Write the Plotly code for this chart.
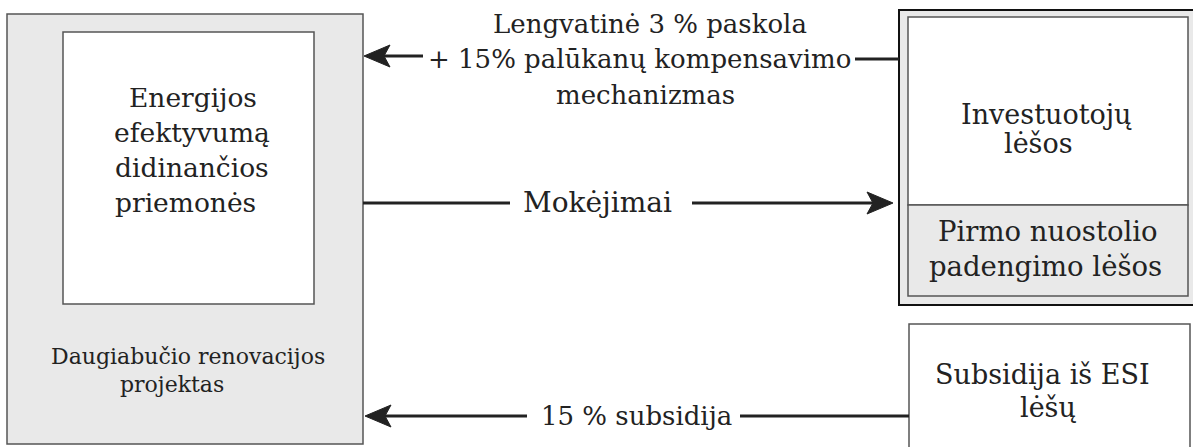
import plotly.graph_objects as go

W, H = 1193, 447

# ---- text content ----
measures_label = ["Energijos", "efektyvumą", "didinančios", "priemonės"]
project_label = ["Daugiabučio renovacijos", "projektas"]
investor_label = ["Investuotojų", "lėšos"]
first_loss_label = ["Pirmo nuostolio", "padengimo lėšos"]
esi_label = ["Subsidija iš ESI", "lėšų"]
loan_label = ["Lengvatinė 3 % paskola", "+ 15% palūkanų kompensavimo", "mechanizmas"]
payments_label = ["Mokėjimai"]
subsidy_label = ["15 % subsidija"]

# ---- layout positions (x centre, y centre of each line) ----
measures_pos = [(193, 97), (192, 132), (192, 167), (185, 202)]
project_pos = [(188, 356), (172, 384)]
investor_pos = [(1046, 114), (1038, 143)]
first_loss_pos = [(1048, 231), (1045, 266)]
esi_pos = [(1042, 374), (1048, 407)]
loan_pos = [(650, 24), (639, 59), (645, 95)]
payments_pos = [(597, 202)]
subsidy_pos = [(636, 416)]

FONT = "DejaVu Serif"
INK = "#222222"
GREY = "#e9e9e9"
EDGE = "#555555"

shapes = []


def rect(x0, y0, x1, y1, fill, line_color=EDGE, width=1.5):
    shapes.append(dict(type="rect", xref="x", yref="y", x0=x0, y0=y0, x1=x1, y1=y1,
                       fillcolor=fill, line=dict(color=line_color, width=width), layer="below"))


def seg(x0, y0, x1, y1, width=3):
    shapes.append(dict(type="line", xref="x", yref="y", x0=x0, y0=y0, x1=x1, y1=y1,
                       line=dict(color=INK, width=width)))


def head(tx, ty, direction):
    L, hw, notch = 26, 11, 6
    d = 1 if direction == "left" else -1
    bx = tx + d * L
    nx = tx + d * (L - notch)
    path = f"M {tx},{ty} L {bx},{ty - hw} L {nx},{ty} L {bx},{ty + hw} Z"
    shapes.append(dict(type="path", xref="x", yref="y", path=path,
                       fillcolor=INK, line=dict(color=INK, width=1)))


# left project box
rect(7, 14, 363, 444, GREY)
rect(63, 32, 314, 304, "white")
# investor box (double frame)
rect(899, 10, 1196, 305, GREY, line_color="#111111", width=2)
rect(908, 17, 1188, 205, "white")
rect(908, 205, 1188, 296, GREY)
# ESI box
rect(909, 324, 1190, 452, "white")

# loan arrow (right -> left)
seg(855, 59, 899, 59)
seg(380, 56, 423, 56)
head(364, 56, "left")
# payments arrow (left -> right)
seg(363, 203, 510, 203)
seg(692, 203, 875, 203)
head(893, 203, "right")
# subsidy arrow (right -> left)
seg(740, 416, 909, 416)
seg(380, 416, 527, 416)
head(365, 416, "left")

annotations = []


def add_lines(labels, positions, size):
    for txt, (x, y) in zip(labels, positions):
        annotations.append(dict(x=x, y=y, xref="x", yref="y", text=txt, showarrow=False,
                                xanchor="center", yanchor="middle",
                                font=dict(family=FONT, size=size, color=INK)))


add_lines(measures_label, measures_pos, 26.5)
add_lines(project_label, project_pos, 22)
add_lines(investor_label, investor_pos, 27)
add_lines(first_loss_label, first_loss_pos, 27.5)
add_lines(esi_label, esi_pos, 27)
add_lines(loan_label, loan_pos, 26)
add_lines(payments_label, payments_pos, 28)
add_lines(subsidy_label, subsidy_pos, 26)

fig = go.Figure()
fig.update_layout(
    width=W, height=H,
    margin=dict(l=0, r=0, t=0, b=0),
    paper_bgcolor="white", plot_bgcolor="white",
    xaxis=dict(range=[0, W], visible=False, fixedrange=True),
    yaxis=dict(range=[H, 0], visible=False, fixedrange=True),
    shapes=shapes, annotations=annotations, showlegend=False,
)
fig.write_html("out.html", config={"displayModeBar": False},
               post_script="document.body.style.margin='0';document.body.style.overflow='hidden';")
